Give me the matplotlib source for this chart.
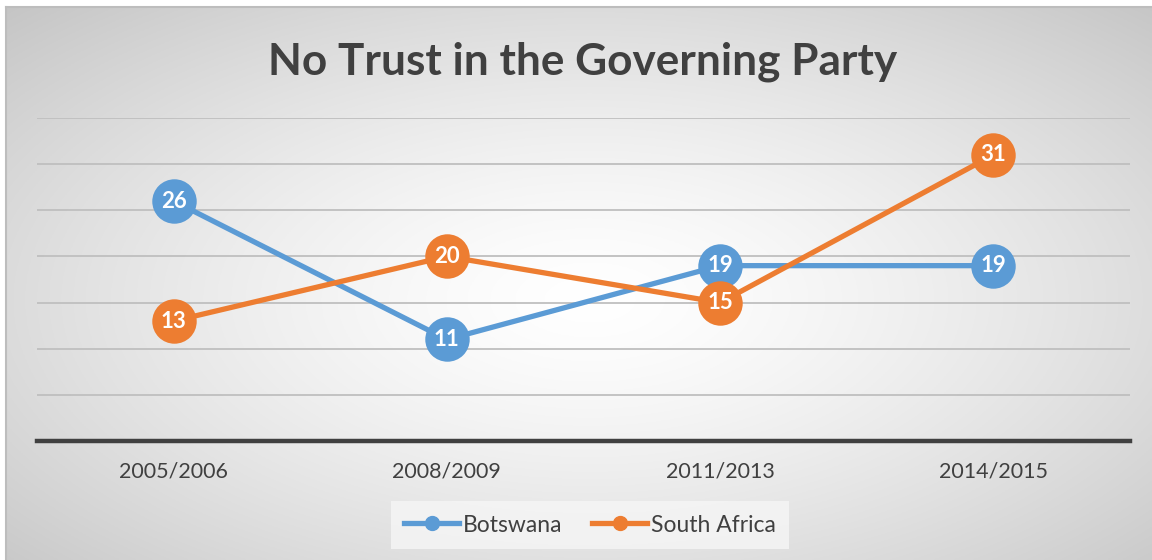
import numpy as np
import matplotlib
matplotlib.use("Agg")
import matplotlib.pyplot as plt
from matplotlib.lines import Line2D

# Data
periods = ["2005/2006", "2008/2009", "2011/2013", "2014/2015"]
botswana = [26, 11, 19, 19]
south_africa = [13, 20, 15, 31]
title = "No Trust in the Governing Party"

BLUE = "#5B9BD5"
ORANGE = "#ED7D31"
FONT = ["Lato", "DejaVu Sans"]

W, H = 1152, 560
fig = plt.figure(figsize=(W / 100, H / 100), dpi=100)
fig.patch.set_facecolor("white")

# Radial gradient chart background
x0, y0 = 6, 7
bg = fig.add_axes([x0 / W, 0, (W - x0) / W, (H - y0) / H])
bg.set_axis_off()
gx = np.linspace(x0, W, 600)
gy = np.linspace(y0, H, 300)
XX, YY = np.meshgrid(gx, gy)
r = np.sqrt(((XX - 590) / 600) ** 2 + ((YY - 300) / 300) ** 2) / np.sqrt(2)
v = 255 - 60 * np.clip(r, 0, 1.2) ** 1.4
img = np.dstack([v, v, v]) / 255.0
bg.imshow(img, extent=[0, 1, 0, 1], aspect="auto", origin="upper", zorder=0)
bg.set_xlim(0, 1)
bg.set_ylim(0, 1)
bg.plot([0, 0], [0, 1], color="#bdbdbd", lw=1.5, transform=bg.transAxes, clip_on=False)
bg.plot([0, 1], [1, 1], color="#bdbdbd", lw=1.5, transform=bg.transAxes, clip_on=False)

# Plot area
left, right = 37, 1130
bottom_px, top_px = 441, 118
ax = fig.add_axes([left / W, (H - bottom_px) / H, (right - left) / W,
                   (bottom_px - top_px) / H])
ax.patch.set_alpha(0)
x = np.arange(len(periods))
ax.set_xlim(-0.5, len(periods) - 0.5)
ax.set_ylim(0, 35)

for yv in range(5, 36, 5):
    ax.axhline(yv, color="#bfbfbf", lw=1.3, zorder=1)
ax.axhline(0, color="#404040", lw=3.2, zorder=2, clip_on=False)

for s in ax.spines.values():
    s.set_visible(False)
ax.set_yticks([])
ax.set_xticks(x)
ax.set_xticklabels(periods, fontsize=15.5, color="#404040", family=FONT)
ax.tick_params(axis="x", length=0, pad=15)

for vals, col in [(botswana, BLUE), (south_africa, ORANGE)]:
    ax.plot(x, vals, color=col, lw=3.8, marker="o", markersize=32,
            markeredgewidth=0, zorder=3, solid_capstyle="round", clip_on=False)
    for xi, val in zip(x, vals):
        ax.text(xi, val, str(val), ha="center", va="center", color="white",
                fontsize=16, fontweight="bold", family=FONT, zorder=4)

fig.text(583 / W, 1 - 62 / H, title, ha="center", va="center",
         fontsize=31.8, fontweight="bold", color="#404040", family=FONT)

handles = [Line2D([], [], color=BLUE, lw=3.8, marker="o", markersize=10),
           Line2D([], [], color=ORANGE, lw=3.8, marker="o", markersize=10)]
leg = fig.legend(handles, ["Botswana", "South Africa"], loc="center",
                 bbox_to_anchor=(590 / W, 1 - 525 / H), ncol=2, frameon=True,
                 fancybox=False, prop={"family": FONT, "size": 16.5},
                 handlelength=2.4, columnspacing=1.3, handletextpad=0.15,
                 borderpad=0.6, borderaxespad=0)
leg.get_frame().set_facecolor("#f6f6f6")
leg.get_frame().set_edgecolor("none")
for t in leg.get_texts():
    t.set_color("#404040")

fig.savefig("out.png", dpi=100)
